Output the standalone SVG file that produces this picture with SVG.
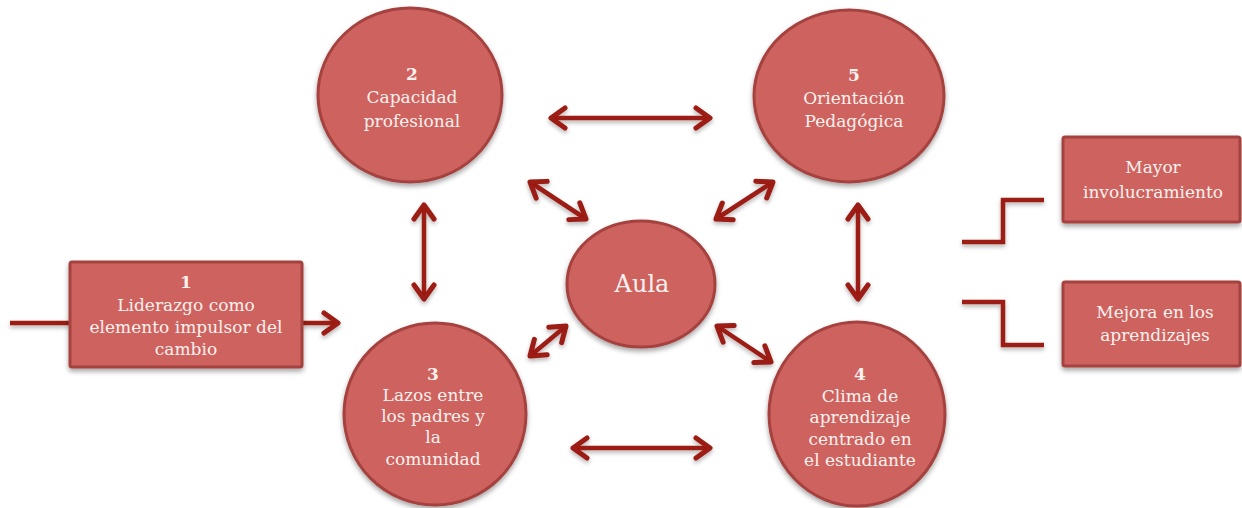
<svg xmlns="http://www.w3.org/2000/svg" width="1242" height="508" viewBox="0 0 1242 508">
  <style>
    .shape { fill: #cd625e; stroke: #a5423f; stroke-width: 3; filter: url(#shadow); }
    .label { font-family: "DejaVu Serif", "Liberation Serif", serif; font-size: 17px; fill: #fdf1ee; text-anchor: middle; }
    .num { font-weight: bold; }
    .big { font-size: 24px; }
    .link { fill: none; stroke: #9c1a12; stroke-width: 4.5; }
    .both { marker-start: url(#chev); marker-end: url(#chev); }
    .fwd { marker-end: url(#chev); }
  </style>
  <defs>
    <filter id="shadow" x="-20%" y="-20%" width="140%" height="150%">
      <feDropShadow dx="0" dy="3" stdDeviation="2.5" flood-color="#000" flood-opacity="0.35"/>
    </filter>
    <filter id="lineShadow" filterUnits="userSpaceOnUse" x="0" y="0" width="1242" height="508">
      <feDropShadow dx="0" dy="2.5" stdDeviation="2" flood-color="#000" flood-opacity="0.3"/>
    </filter>
    <marker id="chev" markerUnits="userSpaceOnUse" viewBox="-20 -14 24 28" refX="0" refY="0" markerWidth="24" markerHeight="28" orient="auto-start-reverse">
      <path d="M-14,-10 L0,0 L-14,10" fill="none" stroke="#9c1a12" stroke-width="5" stroke-linecap="round" stroke-linejoin="round"/>
    </marker>
  </defs>

  <!-- connectors -->
  <g id="connectors" filter="url(#lineShadow)">
    <line class="link both" x1="551" y1="118" x2="710" y2="118"/>
    <line class="link both" x1="573" y1="448" x2="710" y2="448"/>
    <line class="link both" x1="424" y1="205" x2="424" y2="299"/>
    <line class="link both" x1="858" y1="205" x2="858" y2="299"/>
    <line class="link both" x1="530" y1="182" x2="586" y2="219"/>
    <line class="link both" x1="716" y1="219" x2="773" y2="182"/>
    <line class="link both" x1="530" y1="356" x2="566" y2="326"/>
    <line class="link both" x1="717" y1="326" x2="771" y2="362"/>
    <line class="link" x1="10" y1="323" x2="70" y2="323"/>
    <line class="link fwd" x1="302" y1="323" x2="338" y2="323"/>
    <polyline class="link" points="962,242 1003,242 1003,200 1044,200"/>
    <polyline class="link" points="962,302 1003,302 1003,345 1044,345"/>
  </g>

  <!-- 1 -->
  <g id="node-liderazgo">
    <rect class="shape" x="70" y="262" width="232" height="105" rx="2"/>
    <text class="label num" x="186" y="288">1</text>
    <text class="label" x="186" y="311">Liderazgo como</text>
    <text class="label" x="186" y="333">elemento impulsor del</text>
    <text class="label" x="186" y="355">cambio</text>
  </g>

  <!-- 2 -->
  <g id="node-capacidad">
    <ellipse class="shape" cx="410" cy="95" rx="92" ry="87"/>
    <text class="label num" x="412" y="80">2</text>
    <text class="label" x="412" y="103">Capacidad</text>
    <text class="label" x="412" y="127">profesional</text>
  </g>

  <!-- 5 -->
  <g id="node-orientacion">
    <ellipse class="shape" cx="849" cy="96" rx="95" ry="86"/>
    <text class="label num" x="854" y="81">5</text>
    <text class="label" x="854" y="104">Orientación</text>
    <text class="label" x="854" y="127">Pedagógica</text>
  </g>

  <!-- Aula -->
  <g id="node-aula">
    <ellipse class="shape" cx="641" cy="284" rx="74" ry="63"/>
    <text class="label big" x="642" y="292">Aula</text>
  </g>

  <!-- 3 -->
  <g id="node-lazos">
    <ellipse class="shape" cx="435" cy="414" rx="91" ry="91"/>
    <text class="label num" x="433" y="380">3</text>
    <text class="label" x="433" y="401">Lazos entre</text>
    <text class="label" x="433" y="422">los padres y</text>
    <text class="label" x="433" y="443">la</text>
    <text class="label" x="433" y="465">comunidad</text>
  </g>

  <!-- 4 -->
  <g id="node-clima">
    <ellipse class="shape" cx="857" cy="414" rx="88" ry="92"/>
    <text class="label num" x="860" y="380">4</text>
    <text class="label" x="860" y="402">Clima de</text>
    <text class="label" x="860" y="423">aprendizaje</text>
    <text class="label" x="860" y="445">centrado en</text>
    <text class="label" x="860" y="466">el estudiante</text>
  </g>

  <!-- outcomes -->
  <g id="node-involucramiento">
    <rect class="shape" x="1063" y="137" width="177" height="85" rx="2"/>
    <text class="label" x="1153" y="173">Mayor</text>
    <text class="label" x="1153" y="198">involucramiento</text>
  </g>
  <g id="node-aprendizajes">
    <rect class="shape" x="1063" y="282" width="177" height="84" rx="2"/>
    <text class="label" x="1155" y="318">Mejora en los</text>
    <text class="label" x="1155" y="341">aprendizajes</text>
  </g>
</svg>
